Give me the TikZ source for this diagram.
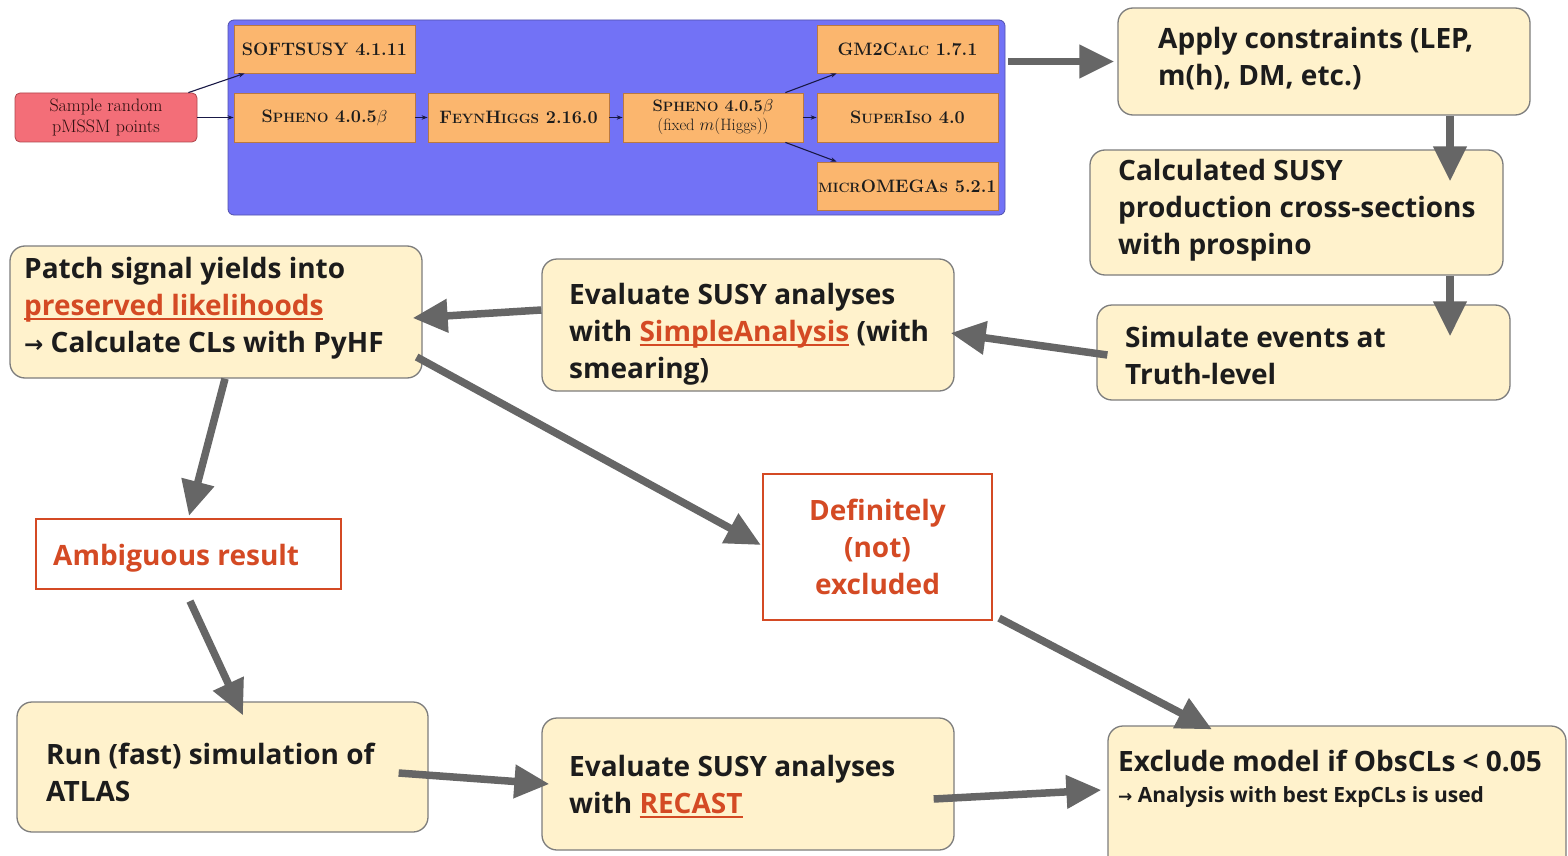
\documentclass[tikz,border=0pt]{standalone}
\usepackage{fontspec}
\usetikzlibrary{arrows.meta,calc}
\newfontfamily\osb{Open Sans}
\newfontfamily\dvs{DejaVu Sans}
\definecolor{boxfill}{RGB}{255,242,204}
\definecolor{boxborder}{RGB}{125,125,125}
\definecolor{arrowgray}{RGB}{102,102,102}
\definecolor{linkred}{RGB}{212,74,36}
\definecolor{bluebg}{RGB}{114,114,246}
\definecolor{orfill}{RGB}{251,182,110}
\definecolor{orborder}{RGB}{185,120,65}
\definecolor{redfill}{RGB}{243,110,120}
\definecolor{redborder}{RGB}{175,70,75}
\definecolor{navy}{RGB}{25,25,70}
\definecolor{txtcol}{RGB}{28,28,28}
\newcommand\myst{\rule{0pt}{28pt}}
\newcommand\myul[1]{\begingroup\setbox0\hbox{#1}\rlap{\rule[-4.5pt]{\wd0}{1.8pt}}\box0\endgroup}
\newcommand\lk[1]{\textcolor{linkred}{\myul{#1}}}
\newcommand\smc[1]{{\fontsize{13.5}{13.5}\selectfont #1}}
\tikzset{
  ybox/.style={draw=boxborder, fill=boxfill, rounded corners=15pt, line width=1.3pt, inner sep=0pt},
  rbox/.style={draw=linkred, fill=white, line width=2.2pt, inner sep=0pt},
  obox/.style={draw=orborder, fill=orfill, line width=0.8pt, inner sep=0pt, text=txtcol,
    font=\fontsize{18}{19}\selectfont\bfseries, align=center},
  sbox/.style={draw=redborder, fill=redfill, line width=0.8pt, rounded corners=5pt, inner sep=0pt,
    text=txtcol!80!red!60!black, font=\fontsize{18}{21}\selectfont, align=center},
  txt/.style={anchor=north west, inner sep=0pt, align=left, text=txtcol,
    font=\osb\bfseries\fontsize{28}{37}\selectfont, execute at begin node=\myst},
  rtxt/.style={txt, text=linkred},
  big/.style={-{Triangle[length=35pt,width=32pt]}, line width=7.5pt, draw=arrowgray},
  small/.style={-{Stealth[length=6pt,width=4.5pt]}, line width=1.1pt, draw=navy},
}
\begin{document}
\begin{tikzpicture}[x=1pt,y=-1pt]
\clip (0,0) rectangle (1568,856);
\fill[white] (0,0) rectangle (1568,856);

% top pipeline
\node[draw=bluebg!70!black, fill=bluebg, rounded corners=6pt, line width=0.8pt, inner sep=0pt,
  minimum width=777pt, minimum height=195pt] (blue) at (616.5,117.5) {};
\node[sbox, minimum width=182pt, minimum height=49pt] (sample) at (106,117.5) {Sample random\\pMSSM points};
\node[obox, minimum width=181pt, minimum height=48pt] (softsusy) at (324.5,49) {SOFTSUSY 4.1.11};
\node[obox, minimum width=181pt, minimum height=49pt] (spheno) at (324.5,117.5) {S\smc{PHENO} 4.0.5$\beta$};
\node[obox, minimum width=181pt, minimum height=49pt] (feyn) at (518.5,117.5) {F\smc{EYN}H\smc{IGGS} 2.16.0};
\node[obox, minimum width=180pt, minimum height=49pt, font=\fontsize{16.5}{19}\selectfont] (sphenofix) at (713,117.5)
  {\textbf{S\smc{PHENO} 4.0.5$\beta$}\\(fixed $m$(Higgs))};
\node[obox, minimum width=181pt, minimum height=48pt] (gm2) at (907.5,49) {GM2C\smc{ALC} 1.7.1};
\node[obox, minimum width=181pt, minimum height=49pt] (superiso) at (907.5,117.5) {S\smc{UPER}I\smc{SO} 4.0};
\node[obox, minimum width=181pt, minimum height=48pt] (micro) at (907.5,186) {\smc{MICR}OMEGA\smc{S} 5.2.1};

\draw[small] ($(sample.north east)+(-9,0)$) -- ($(softsusy.south west)+(11,0)$);
\draw[small] (sample.east) -- (spheno.west);
\draw[small] (spheno.east) -- (feyn.west);
\draw[small] (feyn.east) -- (sphenofix.west);
\draw[small] (sphenofix.east) -- (superiso.west);
\draw[small] ($(sphenofix.north east)+(-18,0)$) -- ($(gm2.south west)+(20,0)$);
\draw[small] ($(sphenofix.south east)+(-18,0)$) -- ($(micro.north west)+(20,0)$);

% yellow boxes
\node[ybox, minimum width=412pt, minimum height=107pt] (apply) at (1324,61.5) {};
\node[txt] (applyT) at (1158,27) {Apply constraints (LEP,\\m(h), DM, etc.)};
\node[ybox, minimum width=413pt, minimum height=125pt] (calc) at (1296.5,212.5) {};
\node[txt] (calcT) at (1118,159) {Calculated SUSY\\production cross-sections\\with prospino};
\node[ybox, minimum width=413pt, minimum height=95pt] (sim) at (1303.5,352.5) {};
\node[txt] (simT) at (1125,326) {Simulate events at\\Truth-level};
\node[ybox, minimum width=412pt, minimum height=132pt] (evsa) at (748,325) {};
\node[txt] (evsaT) at (569,283) {Evaluate SUSY analyses\\with \lk{SimpleAnalysis} (with\\smearing)};
\node[ybox, minimum width=412pt, minimum height=132pt] (patch) at (216,312) {};
\node[txt] (patchT) at (24,257) {Patch signal yields into\\\lk{preserved likelihoods}\\{\dvs\bfseries\fontsize{23}{19}\selectfont →} Calculate CLs with PyHF};
\node[rbox, minimum width=305pt, minimum height=70pt] (amb) at (188.5,554) {};
\node[rtxt] (ambT) at (53,537) {Ambiguous result};
\node[rbox, minimum width=229pt, minimum height=146pt] (defn) at (877.5,547) {};
\node[rtxt, anchor=north, align=center] (defnT) at (877.5,499) {Definitely\\(not)\\excluded};
\node[ybox, minimum width=411pt, minimum height=130pt] (run) at (222.5,767) {};
\node[txt] (runT) at (46,743) {Run (fast) simulation of\\ATLAS};
\node[ybox, minimum width=412pt, minimum height=132pt] (recast) at (748,784) {};
\node[txt] (recastT) at (569,755) {Evaluate SUSY analyses\\with \lk{RECAST}};
\node[ybox, minimum width=458pt, minimum height=154pt] (excl) at (1337,803) {};
\node[txt] (exclT) at (1118,743) {Exclude model if ObsCLs < 0.05};
\node[txt, font=\osb\bfseries\fontsize{21}{26}\selectfont, execute at begin node=\rule{0pt}{20pt}] (exclT2) at (1118,774)
  {{\dvs\bfseries\fontsize{17}{14}\selectfont →} Analysis with best ExpCLs is used};

% big arrows
\draw[big] ($(blue.east |- apply.west)+(3,0)$) -- ($(apply.west)+(-3,0)$);
\draw[big] ($(apply.south)+(126,0)$) -- ($(calc.north)+(153.5,32)$);
\draw[big] ($(calc.south)+(153.5,0)$) -- ($(sim.north)+(146.5,32)$);
\draw[big] ($(sim.west)+(11,2.5)$) -- ($(evsa.east)+(-4,8)$);
\draw[big] ($(evsa.west)+(0,-15)$) -- ($(patch.east)+(-10,6)$);
\draw[big] ($(patch.south)+(9,0)$) -- ($(amb.north)+(0.5,-2)$);
\draw[big] ($(patch.east)+(-6,45)$) -- ($(defn.west)+(-1,-2)$);
\draw[big] ($(amb.south)+(1.5,11)$) -- ($(run.north)+(20.5,14)$);
\draw[big] ($(defn.south east)+(6,-3)$) -- ($(excl.north)+(-125,4)$);
\draw[big] ($(run.east)+(-30,6)$) -- ($(recast.west)+(8,0)$);
\draw[big] ($(recast.east)+(-21,15)$) -- ($(excl.west)+(-6,-13)$);
\end{tikzpicture}
\end{document}
